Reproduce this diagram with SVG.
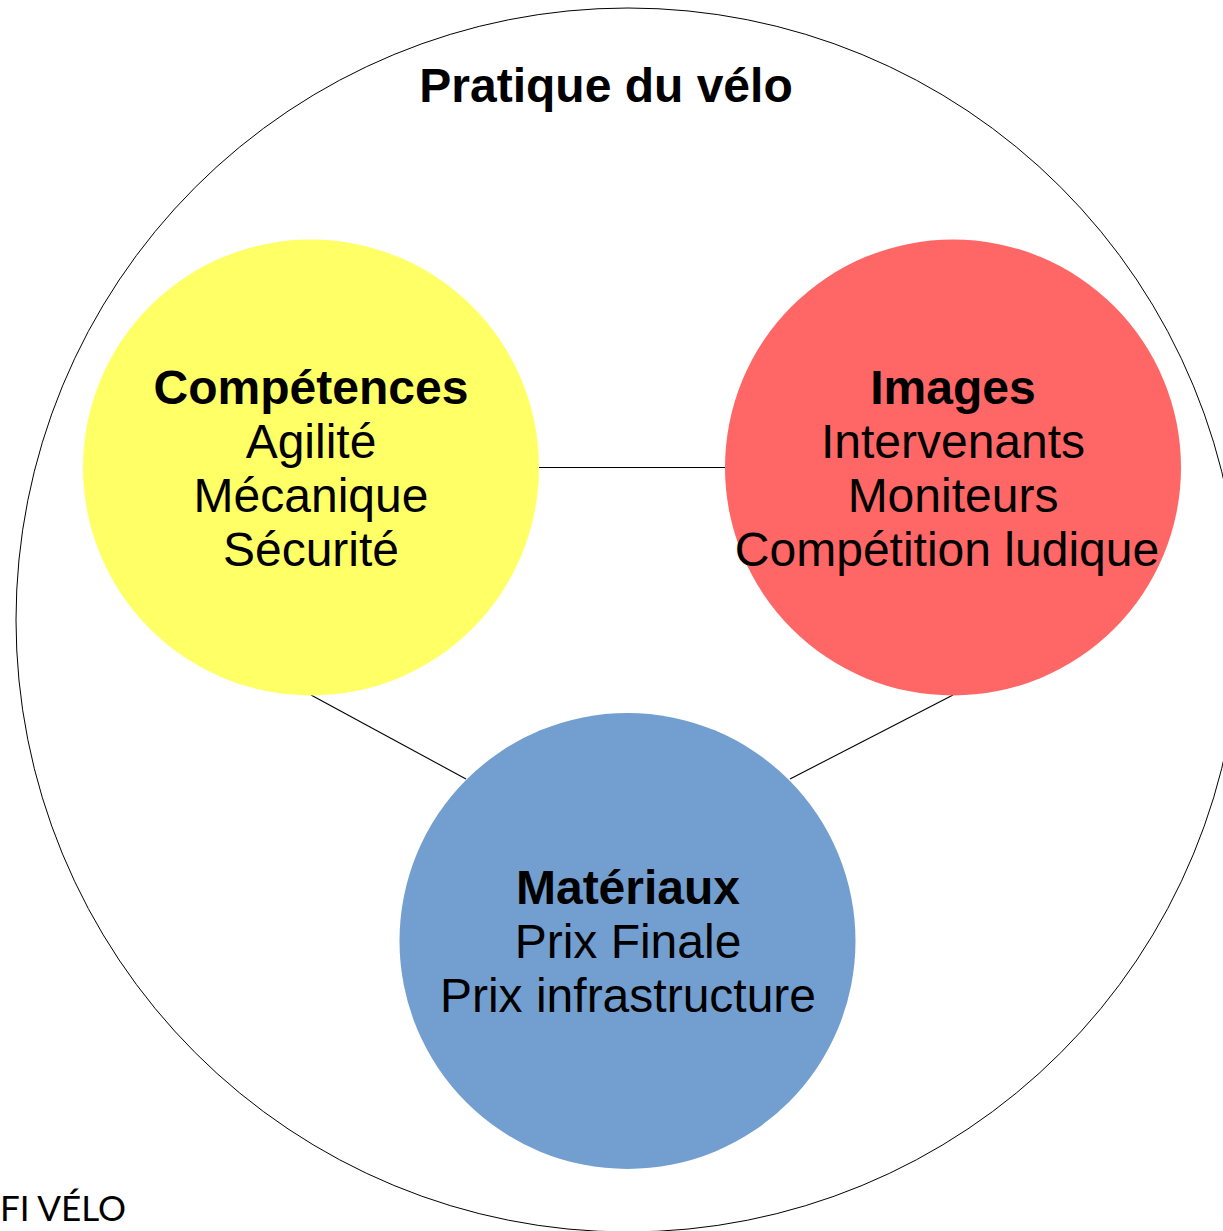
<svg xmlns="http://www.w3.org/2000/svg" width="1223" height="1231" viewBox="0 0 1223 1231">
<style>
.t{font-family:"Liberation Sans",Arial,sans-serif;font-size:48px;fill:#000;text-anchor:middle}
.b{font-weight:bold}
.c{stroke:none}
.ln{stroke:#000;stroke-width:1.1;fill:none}
.foot{font-family:Lato,"Open Sans",sans-serif;font-weight:400;font-size:34px;fill:#000}
</style>
<rect width="1223" height="1231" fill="#fff"/>
<g id="outer">
<circle cx="628" cy="620" r="612" fill="none" stroke="#000" stroke-width="1"/>
<text class="t b" x="606" y="102">Pratique du vélo</text>
</g>
<g id="connectors">
<line class="ln" x1="539" y1="467.5" x2="725" y2="467.5"/>
<line class="ln" x1="311" y1="695" x2="466" y2="779"/>
<line class="ln" x1="953" y1="695" x2="790" y2="779"/>
</g>
<g id="competences">
<circle class="c" cx="311" cy="467.5" r="228" fill="#ffff66"/>
<text class="t b" x="311" y="404">Compétences</text>
<text class="t" x="311" y="458">Agilité</text>
<text class="t" x="311" y="512">Mécanique</text>
<text class="t" x="311" y="566">Sécurité</text>
</g>
<g id="images">
<circle class="c" cx="953" cy="467.5" r="228" fill="#ff6666"/>
<text class="t b" x="953" y="404">Images</text>
<text class="t" x="953" y="458">Intervenants</text>
<text class="t" x="953" y="512">Moniteurs</text>
<text class="t" x="947" y="566">Compétition ludique</text>
</g>
<g id="materiaux">
<circle class="c" cx="627.5" cy="941" r="228" fill="#729fcf"/>
<text class="t b" x="628" y="904">Matériaux</text>
<text class="t" x="628" y="958">Prix Finale</text>
<text class="t" x="628" y="1012">Prix infrastructure</text>
</g>
<text class="foot" x="0" y="1221" textLength="126" lengthAdjust="spacingAndGlyphs">FI VÉLO</text>
</svg>
